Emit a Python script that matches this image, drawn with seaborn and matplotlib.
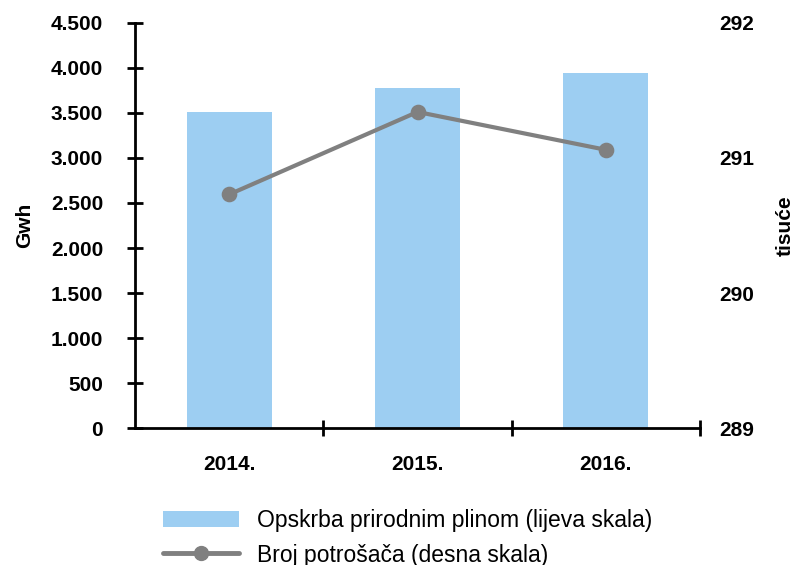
import matplotlib
matplotlib.use("Agg")
import matplotlib.pyplot as plt
import seaborn as sns
import pandas as pd
from matplotlib.patches import Patch
from matplotlib.lines import Line2D

# data
godine = ["2014.", "2015.", "2016."]
opskrba_gwh = [3505, 3775, 3940]          # lijeva skala
potrosaci_tis = [290.73, 291.34, 291.06]  # desna skala

bar_color = "#9DCEF2"
line_color = "#808080"

sns.set_style("white")
plt.rcParams["font.family"] = ["Liberation Sans", "DejaVu Sans"]
plt.rcParams.update({"text.color": "black", "axes.labelcolor": "black",
                     "xtick.color": "black", "ytick.color": "black",
                     "axes.edgecolor": "black"})

df = pd.DataFrame({"godina": godine, "gwh": opskrba_gwh, "tis": potrosaci_tis})

fig = plt.figure(figsize=(7.96, 5.65), dpi=100)
ax = fig.add_axes([0.1696, 0.2419, 0.7098, 0.7179])

sns.barplot(data=df, x="godina", y="gwh", color=bar_color, width=0.45,
            saturation=1, linewidth=0, ax=ax)

ax2 = ax.twinx()
sns.pointplot(data=df, x="godina", y="tis", color=line_color, ax=ax2,
              markers="o", linewidth=3, markersize=9)

for a in (ax, ax2):
    a.set_xlim(-0.5, 2.5)
    for s in a.spines.values():
        s.set_visible(False)

fs = 15
ax.set_ylim(0, 4500)
ax.set_yticks(range(0, 4501, 500))
ax.set_yticklabels([f"{v:,}".replace(",", ".") for v in range(0, 4501, 500)])
ax.spines["left"].set_visible(True)
ax.spines["bottom"].set_visible(True)
ax.spines["left"].set_linewidth(2)
ax.spines["bottom"].set_linewidth(2)
ax.tick_params(axis="y", direction="inout", length=12, width=2, pad=17,
               labelsize=fs, left=True)
ax.set_xticks([0, 1, 2])
ax.set_xticks([0.5, 1.5, 2.5], minor=True)
ax.tick_params(axis="x", which="major", length=0, pad=19, labelsize=fs)
ax.tick_params(axis="x", which="minor", direction="inout", length=12, width=2,
               bottom=True)
for t in ax.get_xticklabels() + ax.get_yticklabels():
    t.set_fontweight("bold")
ax.set_xlabel("")
ax.set_ylabel("Gwh", fontsize=fs, fontweight="bold", labelpad=12)

ax2.set_ylim(289, 292)
ax2.set_yticks([289, 290, 291, 292])
ax2.tick_params(axis="y", length=0, pad=14, labelsize=fs, right=True)
for t in ax2.get_yticklabels():
    t.set_fontweight("bold")
ax2.set_ylabel("tisuće", fontsize=fs, fontweight="bold", labelpad=15)

handles = [
    Patch(facecolor=bar_color, edgecolor="none",
          label="Opskrba prirodnim plinom (lijeva skala)"),
    Line2D([], [], color=line_color, linewidth=3.5, marker="o", markersize=10,
           label="Broj potrošača (desna skala)"),
]
fig.legend(handles=handles, loc="upper left", bbox_to_anchor=(0.205, 0.099),
           frameon=False, fontsize=16.5, handlelength=3.3, handleheight=0.75,
           labelspacing=0.5, handletextpad=0.8, borderaxespad=0,
           borderpad=0)

fig.savefig("out.png", dpi=100)
